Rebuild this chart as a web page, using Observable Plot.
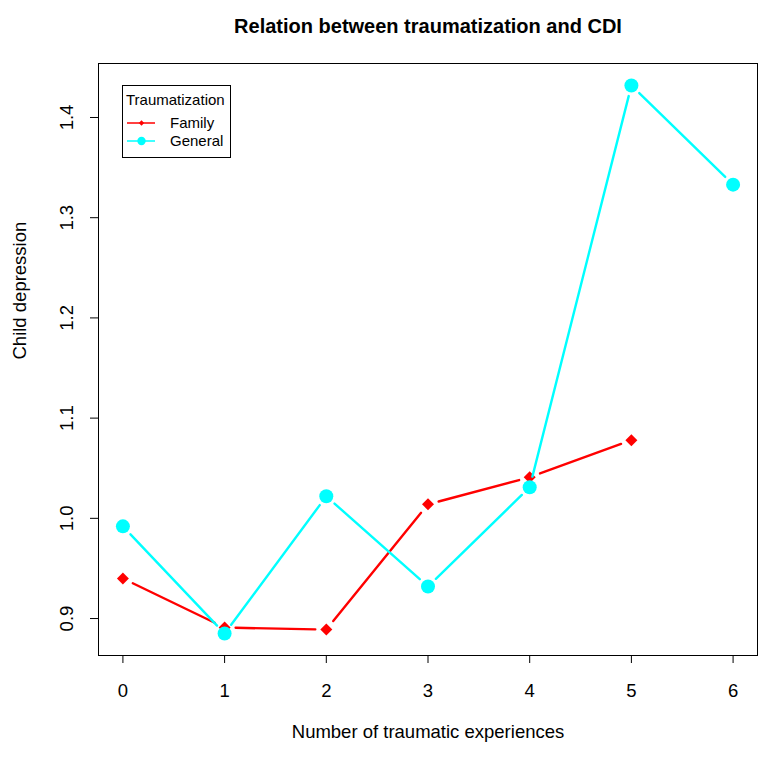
<!DOCTYPE html>
<html>
<head>
<meta charset="utf-8">
<script src="https://cdn.jsdelivr.net/npm/d3@7"></script>
<script src="https://cdn.jsdelivr.net/npm/@observablehq/plot@0.6"></script>
<style>
  body { margin: 0; background: #fff; }
  #chart svg { font-family: "Liberation Sans", Arial, Helvetica, sans-serif; display: block; }
</style>
</head>
<body>
<div id="chart"></div>
<script>
// Mean child depression (CDI) by number of traumatic experiences
const experiences = [0, 1, 2, 3, 4, 5, 6];
const familyValues = [0.940, 0.891, 0.889, 1.014, 1.041, 1.078];
const generalValues = [0.992, 0.885, 1.022, 0.932, 1.031, 1.432, 1.333];
const yTicks = [0.9, 1.0, 1.1, 1.2, 1.3, 1.4];
const seriesNames = ["Family", "General"];
const seriesColors = ["#FF0000", "#00FFFF"];

const titleText = "Relation between traumatization and CDI";
const xLabel = "Number of traumatic experiences";
const yLabel = "Child depression";
const legendTitle = "Traumatization";

// Rows and consecutive segments per series
const family = familyValues.map((v, i) => ({x: experiences[i], y: v}));
const general = generalValues.map((v, i) => ({x: experiences[i], y: v}));
const segments = pts => pts.slice(1).map((p, i) => ({x1: pts[i].x, y1: pts[i].y, x2: p.x, y2: p.y}));

// Extend the data range by 4% on each side
const pad = ([a, b]) => [a - 0.04 * (b - a), b + 0.04 * (b - a)];
const xDomain = pad(d3.extent(experiences));
const yDomain = pad(d3.extent([...familyValues, ...generalValues]));

const axisFont = 18.5;
const gap = 11;      // space left between a segment end and its point
const lineWidth = 2.4;

const chart = Plot.plot({
  width: 763,
  height: 758,
  marginLeft: 98,
  marginRight: 6,
  marginTop: 63,
  marginBottom: 103,
  style: {background: "#fff", color: "#000", fontSize: axisFont + "px"},
  x: {domain: xDomain},
  y: {domain: yDomain},
  marks: [
    Plot.frame({stroke: "#000", strokeWidth: 1}),
    Plot.axisX({ticks: experiences, tickSize: 8, tickPadding: 20, fontSize: axisFont, label: null, tickFormat: d3.format("d")}),
    Plot.axisY({ticks: yTicks, tickSize: 8, tickPadding: 18, tickRotate: -90, fontSize: axisFont, label: null, tickFormat: d3.format(".1f")}),
    // Family series
    Plot.arrow(segments(family), {x1: "x1", y1: "y1", x2: "x2", y2: "y2", stroke: seriesColors[0], strokeWidth: lineWidth, headLength: 0, insetStart: gap, insetEnd: gap}),
    Plot.dot(family, {x: "x", y: "y", symbol: "diamond2", r: 5.4, fill: seriesColors[0], stroke: "none"}),
    // General series
    Plot.arrow(segments(general), {x1: "x1", y1: "y1", x2: "x2", y2: "y2", stroke: seriesColors[1], strokeWidth: lineWidth, headLength: 0, insetStart: gap, insetEnd: gap}),
    Plot.dot(general, {x: "x", y: "y", r: 7, fill: seriesColors[1], stroke: "none"}),
    // Titles
    Plot.text([titleText], {frameAnchor: "top", dy: -45, fontSize: 20, fontWeight: "bold", fill: "#000"}),
    Plot.text([xLabel], {frameAnchor: "bottom", dy: 82, fontSize: axisFont, fill: "#000"}),
    Plot.text([yLabel], {frameAnchor: "left", dx: -78, rotate: -90, fontSize: axisFont, fill: "#000"})
  ]
});

document.getElementById("chart").appendChild(chart);

// Legend box in the upper-left corner of the panel
const svg = d3.select(chart);
const lg = svg.append("g")
  .attr("font-size", 15)
  .attr("font-family", "'Liberation Sans', Arial, sans-serif")
  .attr("text-anchor", "start")
  .attr("fill", "#000");
lg.append("rect").attr("x", 122.5).attr("y", 85.5).attr("width", 108).attr("height", 72)
  .attr("fill", "#fff").attr("stroke", "#000").attr("stroke-width", 1);
lg.append("text").attr("x", 126).attr("y", 105).attr("text-anchor", "start").text(legendTitle);
const legendRows = [
  {name: seriesNames[0], color: seriesColors[0], y: 123, symbol: d3.symbolDiamond2, size: 18},
  {name: seriesNames[1], color: seriesColors[1], y: 141, symbol: d3.symbolCircle, size: 55}
];
legendRows.forEach(r => {
  lg.append("line").attr("x1", 127).attr("x2", 155).attr("y1", r.y).attr("y2", r.y)
    .attr("stroke", r.color).attr("stroke-width", 1.5);
  lg.append("path").attr("d", d3.symbol(r.symbol, r.size)()).attr("transform", `translate(141.5,${r.y})`)
    .attr("fill", r.color);
  lg.append("text").attr("x", 170).attr("y", r.y + 5).attr("text-anchor", "start").text(r.name);
});
</script>
</body>
</html>
